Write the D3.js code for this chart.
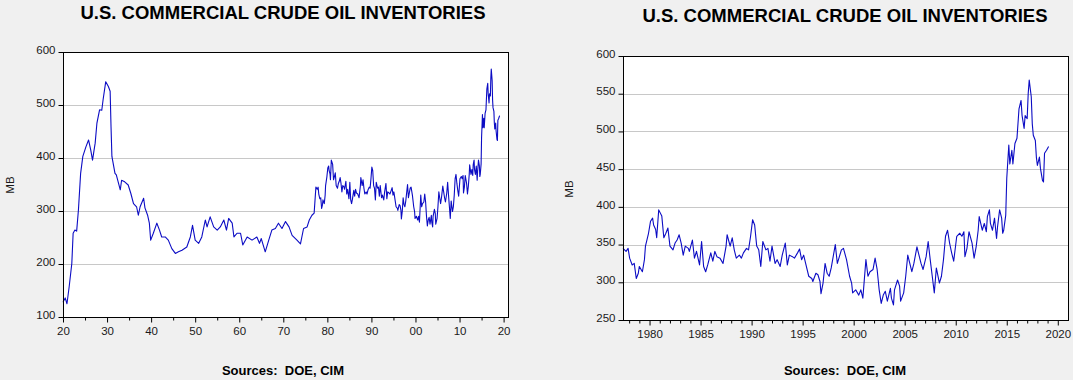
<!DOCTYPE html>
<html>
<head>
<meta charset="utf-8">
<script src="https://cdn.jsdelivr.net/npm/d3@7"></script>
<style>
  body { margin: 0; background: #f0f0f0; }
  svg { display: block; font-family: 'Liberation Sans', Arial, sans-serif; }
</style>
</head>
<body>
<svg id="chart" width="1073" height="380"></svg>
<script>
const titleText = 'U.S. COMMERCIAL CRUDE OIL INVENTORIES';
const sourceText = 'Sources:  DOE, CIM';
const unitLabel = 'MB';

// monthly history (1920 - 1977)
const earlyYears = [
  1920.0, 1920.2, 1920.5, 1920.9, 1921.4, 1922.0, 1922.3, 1922.7, 1923.1, 1923.5,
  1924.0, 1924.5, 1925.2, 1925.8, 1926.3, 1926.7, 1927.3, 1927.7, 1928.3, 1928.8,
  1929.1, 1929.7, 1930.3, 1930.7, 1930.9, 1931.1, 1931.8, 1932.1, 1933.0, 1933.3,
  1934.0, 1934.8, 1935.4, 1936.0, 1936.7, 1937.1, 1937.5, 1938.3, 1938.6, 1939.2,
  1939.6, 1939.9, 1940.5, 1941.3, 1941.9, 1942.4, 1943.2, 1943.9, 1944.7, 1945.5,
  1946.2, 1947.0, 1948.1, 1948.9, 1949.4, 1950.0, 1950.8, 1951.5, 1952.3, 1952.7,
  1953.4, 1954.2, 1955.0, 1955.7, 1956.5, 1957.1, 1957.6, 1958.4, 1958.8, 1959.5,
  1960.3, 1960.8, 1961.8, 1962.9, 1964.0, 1964.6, 1965.0, 1965.9, 1966.7, 1967.4,
  1968.2, 1968.9, 1969.7, 1970.5, 1971.3, 1972.0, 1973.1, 1973.9, 1974.6, 1975.4,
  1975.9, 1976.5, 1977.0
];
const earlyValues = [
  128, 131, 136, 125, 157, 201, 258, 264, 262, 302,
  371, 403, 421, 434, 415, 396, 428, 466, 491, 490,
  510, 544, 535, 526, 459, 403, 371, 368, 340, 358,
  355, 349, 333, 314, 308, 292, 308, 324, 306, 292,
  277, 245, 258, 277, 264, 251, 251, 245, 229, 220,
  223, 226, 232, 251, 273, 245, 239, 251, 283, 270,
  289, 270, 264, 270, 283, 264, 286, 277, 251, 258,
  258, 236, 251, 245, 251, 239, 248, 223, 245, 264,
  267, 277, 267, 280, 270, 254, 245, 238, 267, 270,
  283, 292, 296
];

// weekly series (1977 - 2019)
const recentYears = [
  1977.4, 1977.7, 1977.9, 1978.05, 1978.3, 1978.5, 1978.7, 1978.9, 1979.0, 1979.3,
  1979.5, 1979.6, 1979.9, 1980.1, 1980.3, 1980.4, 1980.6, 1980.7, 1980.9, 1981.2,
  1981.4, 1981.6, 1981.8, 1982.0, 1982.3, 1982.5, 1982.7, 1982.9, 1983.1, 1983.3,
  1983.5, 1983.8, 1983.9, 1984.2, 1984.4, 1984.6, 1984.9, 1985.1, 1985.3, 1985.5,
  1985.7, 1986.0, 1986.2, 1986.4, 1986.6, 1986.9, 1987.2, 1987.5, 1987.6, 1987.9,
  1988.1, 1988.3, 1988.5, 1988.8, 1989.0, 1989.2, 1989.5, 1989.7, 1989.9, 1990.1,
  1990.3, 1990.5, 1990.7, 1990.9, 1991.1, 1991.4, 1991.6, 1991.8, 1992.0, 1992.3,
  1992.5, 1992.8, 1993.0, 1993.3, 1993.5, 1993.7, 1994.0, 1994.2, 1994.5, 1994.7,
  1994.9, 1995.1, 1995.4, 1995.6, 1995.9, 1996.0, 1996.3, 1996.5, 1996.7, 1996.8,
  1997.0, 1997.2, 1997.4, 1997.6, 1997.8, 1998.2, 1998.4, 1998.6, 1998.8, 1999.0,
  1999.3, 1999.6, 1999.8, 1999.9, 2000.2, 2000.5, 2000.7, 2000.9, 2001.2, 2001.4,
  2001.6, 2001.9, 2002.1, 2002.3, 2002.5, 2002.7, 2002.9, 2003.1, 2003.3, 2003.6,
  2003.7, 2003.9, 2004.0, 2004.3, 2004.5, 2004.6, 2004.9, 2005.1, 2005.3, 2005.5,
  2005.7, 2005.9, 2006.2, 2006.4, 2006.6, 2006.8, 2007.1, 2007.3, 2007.5, 2007.7,
  2007.9, 2008.1, 2008.4, 2008.6, 2008.8, 2009.0, 2009.2, 2009.4, 2009.6, 2009.8,
  2010.1, 2010.4, 2010.6, 2010.8, 2010.9, 2011.1, 2011.3, 2011.6, 2011.8, 2012.0,
  2012.2, 2012.3, 2012.6, 2012.8, 2013.0, 2013.1, 2013.3, 2013.4, 2013.6, 2013.8,
  2014.0, 2014.1, 2014.3, 2014.5, 2014.6, 2014.7, 2014.9, 2015.0, 2015.2, 2015.3,
  2015.5, 2015.6, 2015.8, 2016.0, 2016.2, 2016.4, 2016.5, 2016.7, 2016.8, 2017.0,
  2017.1, 2017.2, 2017.4, 2017.5, 2017.6, 2017.8, 2017.9, 2018.0, 2018.2, 2018.3,
  2018.5, 2018.6, 2018.7, 2018.9, 2019.1
];
const recentValues = [
  345, 341, 345, 332, 323, 325, 305, 312, 321, 314,
  330, 348, 365, 381, 385, 376, 370, 359, 396, 388,
  359, 365, 372, 348, 343, 352, 356, 363, 352, 336,
  348, 345, 341, 356, 332, 341, 323, 354, 321, 314,
  323, 339, 328, 341, 334, 332, 325, 348, 363, 348,
  359, 343, 332, 336, 332, 339, 345, 343, 361, 383,
  376, 348, 343, 321, 354, 343, 345, 328, 348, 325,
  330, 321, 336, 352, 323, 336, 334, 332, 339, 344,
  330, 336, 319, 308, 305, 301, 312, 310, 301, 285,
  299, 325, 312, 308, 319, 350, 325, 334, 343, 345,
  330, 308, 299, 286, 290, 283, 290, 279, 330, 308,
  314, 317, 332, 317, 290, 272, 283, 288, 275, 292,
  279, 270, 290, 303, 295, 275, 286, 308, 336, 325,
  314, 325, 347, 336, 325, 317, 334, 354, 330, 308,
  286, 319, 299, 308, 330, 361, 369, 352, 339, 328,
  361, 365, 361, 367, 334, 345, 367, 352, 332, 347,
  369, 387, 369, 378, 367, 387, 396, 378, 369, 385,
  358, 374, 396, 385, 365, 369, 389, 438, 482, 457,
  475, 457, 484, 491, 530, 541, 521, 504, 521, 517,
  550, 568, 546, 510, 495, 488, 466, 455, 466, 451,
  435, 433, 471, 475, 480
];

// axis ticks
const longTicksY = [100, 200, 300, 400, 500, 600];
const longTicksX = [1920, 1930, 1940, 1950, 1960, 1970, 1980, 1990, 2000, 2010, 2020];
const longMinorX = [1925, 1935, 1945, 1955, 1965, 1975, 1985, 1995, 2005, 2015];
const recentTicksY = [250, 300, 350, 400, 450, 500, 550, 600];
const recentTicksX = [1980, 1985, 1990, 1995, 2000, 2005, 2010, 2015, 2020];
const recentMinorX = d3.range(1978, 2021).filter((d) => d % 5 !== 0);

const toPoints = (years, values) => years.map((x, i) => ({ x, y: values[i] }));
const longSeries = toPoints(earlyYears.concat(recentYears), earlyValues.concat(recentValues));
const recentSeries = toPoints(recentYears, recentValues);

const svg = d3.select('#chart');

const drawPanel = (opts) => {
  const { left, right, top, bottom, xDomain, yDomain, yTicks, xTicks, xMinor, xFormat, data } = opts;

  const xScale = d3.scaleLinear().domain(xDomain).range([left, right]);
  const yScale = d3.scaleLinear().domain(yDomain).range([bottom, top]);

  const g = svg.append('g');

  g.append('rect')
    .attr('x', left)
    .attr('y', top)
    .attr('width', right - left)
    .attr('height', bottom - top)
    .attr('fill', '#fff');

  // horizontal grid, inner ticks only
  g.append('g')
    .selectAll('line')
    .data(yTicks.slice(1, -1))
    .enter()
    .append('line')
    .attr('x1', left)
    .attr('x2', right)
    .attr('y1', (d) => Math.round(yScale(d)) + 0.5)
    .attr('y2', (d) => Math.round(yScale(d)) + 0.5)
    .attr('stroke', '#c8c8c8');

  const line = d3
    .line()
    .x((d) => xScale(d.x))
    .y((d) => yScale(d.y));

  g.append('path')
    .datum(data)
    .attr('d', line)
    .attr('fill', 'none')
    .attr('stroke', '#0c0cc4')
    .attr('stroke-width', 1.1)
    .attr('stroke-linejoin', 'round');

  g.append('rect')
    .attr('x', Math.round(left) + 0.5)
    .attr('y', Math.round(top) + 0.5)
    .attr('width', Math.round(right - left))
    .attr('height', Math.round(bottom - top))
    .attr('fill', 'none')
    .attr('stroke', '#000');

  const yAxis = d3.axisLeft(yScale).tickValues(yTicks).tickSize(5).tickPadding(3);
  g.append('g')
    .attr('transform', `translate(${Math.round(left) + 0.5}, 0)`)
    .call(yAxis)
    .call((a) => a.select('.domain').remove())
    .selectAll('text')
    .attr('dy', '0.1em')
    .attr('font-size', '11.5px')
    .attr('font-family', null)
    .attr('fill', '#1a1a1a');

  const xAxis = d3.axisBottom(xScale).tickValues(xTicks).tickSize(5).tickPadding(4).tickFormat(xFormat);
  g.append('g')
    .attr('transform', `translate(0, ${Math.round(bottom) + 0.5})`)
    .call(xAxis)
    .call((a) => a.select('.domain').remove())
    .selectAll('text')
    .attr('font-size', '11.5px')
    .attr('font-family', null)
    .attr('fill', '#1a1a1a');

  g.append('g')
    .attr('transform', `translate(0, ${Math.round(bottom) + 0.5})`)
    .call(d3.axisBottom(xScale).tickValues(xMinor).tickSize(3).tickFormat(''))
    .call((a) => a.select('.domain').remove());

  g.selectAll('.tick line').attr('stroke', '#000');
  g.selectAll('.tick').attr('font-family', null);
};

drawPanel({
  left: 63,
  right: 508,
  top: 52,
  bottom: 317,
  xDomain: [1920, 2021],
  yDomain: [100, 600],
  yTicks: longTicksY,
  xTicks: longTicksX,
  xMinor: longMinorX,
  xFormat: (d) => String(d % 100).padStart(2, '0'),
  data: longSeries,
});

drawPanel({
  left: 623,
  right: 1068,
  top: 56,
  bottom: 320,
  xDomain: [1977.4, 2021],
  yDomain: [250, 600],
  yTicks: recentTicksY,
  xTicks: recentTicksX,
  xMinor: recentMinorX,
  xFormat: (d) => String(d),
  data: recentSeries,
});

// titles, units, sources
const labels = [
  { cx: 283, ty: 19, mx: 13.5, my: 185, sy: 375 },
  { cx: 845, ty: 22, mx: 573, my: 189, sy: 375 },
];

labels.forEach((p) => {
  svg.append('text')
    .attr('x', p.cx)
    .attr('y', p.ty)
    .attr('text-anchor', 'middle')
    .attr('font-size', '18.5px')
    .attr('font-weight', 'bold')
    .attr('fill', '#000')
    .text(titleText);

  svg.append('text')
    .attr('transform', `translate(${p.mx}, ${p.my}) rotate(-90)`)
    .attr('text-anchor', 'middle')
    .attr('font-size', '11.5px')
    .attr('fill', '#1a1a1a')
    .text(unitLabel);

  svg.append('text')
    .attr('x', p.cx)
    .attr('y', p.sy)
    .attr('text-anchor', 'middle')
    .attr('font-size', '13px')
    .attr('font-weight', 'bold')
    .attr('fill', '#000')
    .attr('xml:space', 'preserve')
    .style('white-space', 'pre')
    .text(sourceText);
});
</script>
</body>
</html>
